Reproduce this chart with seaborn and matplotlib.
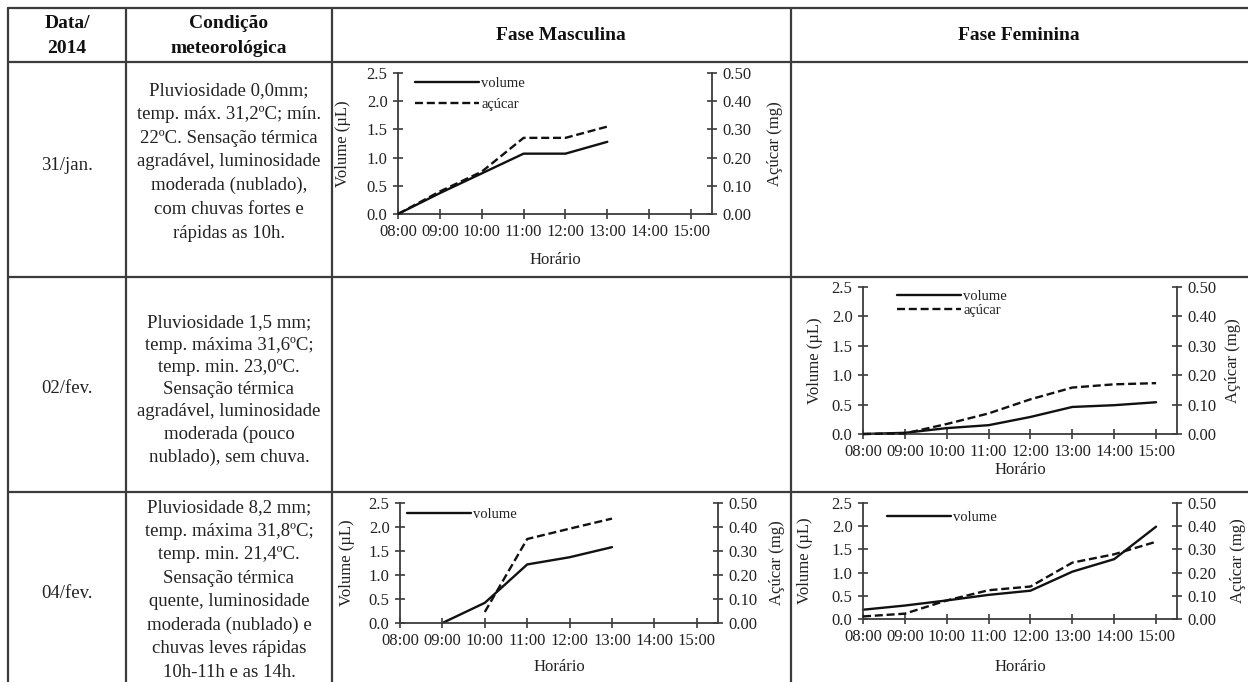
import numpy as np
import pandas as pd
import matplotlib
matplotlib.use("Agg")
import matplotlib.pyplot as plt
import seaborn as sns
from matplotlib.lines import Line2D
from matplotlib.ticker import FormatStrFormatter

# ---------------- data ----------------
HOURS = ["08:00", "09:00", "10:00", "11:00", "12:00", "13:00", "14:00", "15:00"]

# 31/jan - Fase Masculina
jan31_masc_vol_hours = ["08:00", "09:00", "10:00", "11:00", "12:00", "13:00"]
jan31_masc_vol = [0.0, 0.37, 0.72, 1.07, 1.07, 1.28]
jan31_masc_sug_hours = ["08:00", "09:00", "10:00", "11:00", "12:00", "13:00"]
jan31_masc_sug = [0.0, 0.08, 0.15, 0.27, 0.27, 0.31]

# 02/fev - Fase Feminina
fev02_fem_vol_hours = HOURS
fev02_fem_vol = [0.0, 0.02, 0.10, 0.15, 0.29, 0.46, 0.49, 0.54]
fev02_fem_sug_hours = HOURS
fev02_fem_sug = [0.0, 0.002, 0.034, 0.07, 0.118, 0.158, 0.169, 0.173]

# 04/fev - Fase Masculina
fev04_masc_vol_hours = ["09:00", "10:00", "11:00", "12:00", "13:00"]
fev04_masc_vol = [0.0, 0.42, 1.22, 1.37, 1.58]
fev04_masc_sug_hours = ["10:00", "11:00", "12:00", "13:00"]
fev04_masc_sug = [0.046, 0.35, 0.393, 0.435]

# 04/fev - Fase Feminina
fev04_fem_vol_hours = HOURS
fev04_fem_vol = [0.20, 0.29, 0.40, 0.52, 0.61, 1.02, 1.29, 1.99]
fev04_fem_sug_hours = HOURS
fev04_fem_sug = [0.011, 0.023, 0.08, 0.124, 0.14, 0.243, 0.279, 0.333]

header_labels = ["Data/\n2014", "Condição\nmeteorológica", "Fase Masculina", "Fase Feminina"]
row_dates = ["31/jan.", "02/fev.", "04/fev."]
row_conditions = [
    "Pluviosidade 0,0mm;\ntemp. máx. 31,2ºC; mín.\n22ºC. Sensação térmica\nagradável, luminosidade\nmoderada (nublado),\ncom chuvas fortes e\nrápidas as 10h.",
    "Pluviosidade 1,5 mm;\ntemp. máxima 31,6ºC;\ntemp. min. 23,0ºC.\nSensação térmica\nagradável, luminosidade\nmoderada (pouco\nnublado), sem chuva.",
    "Pluviosidade 8,2 mm;\ntemp. máxima 31,8ºC;\ntemp. min. 21,4ºC.\nSensação térmica\nquente, luminosidade\nmoderada (nublado) e\nchuvas leves rápidas\n10h-11h e as 14h.",
]

# ---------------- style ----------------
sns.set_theme(style="white")
plt.rcParams["font.family"] = ["Liberation Serif", "DejaVu Serif"]

W, H = 1248, 682
fig = plt.figure(figsize=(W / 100, H / 100), dpi=100)
fig.patch.set_facecolor("white")


def fx(px):
    return px / W


def fy(py):
    return 1 - py / H


GRID = "#3c3c3c"
# table rules
for x in [8, 126, 332, 791]:
    fig.add_artist(Line2D([fx(x)] * 2, [fy(8), fy(682)], color=GRID, lw=1.6))
for y in [8, 62, 277, 492]:
    fig.add_artist(Line2D([fx(8), fx(1248)], [fy(y)] * 2, color=GRID, lw=1.6))

# header texts
hdr_x = [67, 229, 561, 1019]
for x, t in zip(hdr_x, header_labels):
    fig.text(fx(x), fy(36), t, ha="center", va="center", fontsize=14,
             fontweight="bold", linespacing=1.65, color="#111")

row_centers = [162, 390, 590]
date_centers = [165, 388, 593]
row_spacing = [1.52, 1.40, 1.50]
for yc, yd, d, c, ls in zip(row_centers, date_centers, row_dates, row_conditions, row_spacing):
    fig.text(fx(67), fy(yd), d, ha="center", va="center", fontsize=13.5, color="#222")
    fig.text(fx(229), fy(yc), c, ha="center", va="center", fontsize=13.5,
             linespacing=ls, color="#222")


def panel(box, vol_h, vol, sug_h, sug, legend_both, leg_xy, leg_spacing,
          ylab_x, ylab2_x, xlab_y):
    l, r, t, b = box
    ax = fig.add_axes([fx(l), fy(b), (r - l) / W, (b - t) / H])
    ax.set_facecolor("none")
    ax2 = ax.twinx()
    vdf = pd.DataFrame({"x": [HOURS.index(h) for h in vol_h], "v": vol})
    sdf = pd.DataFrame({"x": [HOURS.index(h) for h in sug_h], "s": sug})
    sns.lineplot(data=vdf, x="x", y="v", ax=ax, color="#111", lw=1.7, clip_on=False)
    sns.lineplot(data=sdf, x="x", y="s", ax=ax2, color="#111", lw=1.7, clip_on=False)
    ax2.lines[-1].set_dashes((3.4, 1.6))

    ax.set_xlim(0, 7.5)
    ax.set_ylim(0, 2.5)
    ax2.set_ylim(0, 0.5)
    ax.set_xticks(range(len(HOURS)))
    ax.set_xticklabels(HOURS)
    ax.set_yticks(np.arange(0, 2.51, 0.5))
    ax.yaxis.set_major_formatter(FormatStrFormatter("%.1f"))
    ax2.set_yticks(np.arange(0, 0.51, 0.1))
    ax2.yaxis.set_major_formatter(FormatStrFormatter("%.2f"))

    for a in (ax, ax2):
        for s in a.spines.values():
            s.set_visible(False)
        a.grid(False)
    ax.spines["left"].set_visible(True)
    ax.spines["bottom"].set_visible(True)
    ax2.spines["right"].set_visible(True)
    for s in [ax.spines["left"], ax.spines["bottom"], ax2.spines["right"]]:
        s.set_color(GRID)
        s.set_linewidth(1.3)

    ax.tick_params(axis="x", bottom=True, direction="inout", length=7, width=1.2,
                   color=GRID, labelsize=12, labelcolor="#222", pad=4)
    ax.tick_params(axis="y", left=True, direction="inout", length=7, width=1.2,
                   color=GRID, labelsize=12, labelcolor="#222", pad=4)
    ax2.tick_params(axis="y", right=True, direction="inout", length=7, width=1.2,
                    color=GRID, labelsize=12, labelcolor="#222", pad=4)

    ax.set_xlabel("Horário", fontsize=12, color="#222")
    ax.xaxis.set_label_coords(0.5, xlab_y)
    ax.xaxis.label.set_va("center")
    ax.set_ylabel("Volume (µL)", fontsize=12, color="#222")
    ax.yaxis.set_label_coords(ylab_x, 0.5)
    ax.yaxis.label.set_va("center")
    ax2.set_ylabel("Açúcar (mg)", fontsize=12, color="#222")
    ax2.yaxis.set_label_coords(ylab2_x, 0.5)
    ax2.yaxis.label.set_va("center")

    h1 = Line2D([], [], color="#111", lw=1.7)
    h2 = Line2D([], [], color="#111", lw=1.7, dashes=(3.4, 1.6))
    handles, labels = ([h1, h2], ["volume", "açúcar"]) if legend_both else ([h1], ["volume"])
    leg = ax2.legend(handles, labels, loc="upper left", bbox_to_anchor=leg_xy,
                     frameon=False, fontsize=10.5, handlelength=4.4,
                     handletextpad=0.15, borderpad=0, borderaxespad=0,
                     labelspacing=leg_spacing)
    for txt in leg.get_texts():
        txt.set_color("#222")
    return ax, ax2


panel((398, 712, 73, 214), jan31_masc_vol_hours, jan31_masc_vol,
      jan31_masc_sug_hours, jan31_masc_sug, True, (0.054, 0.97), 0.5,
      -0.175, 1.2, -0.326)
panel((863, 1177, 287, 434), fev02_fem_vol_hours, fev02_fem_vol,
      fev02_fem_sug_hours, fev02_fem_sug, True, (0.108, 0.98), 0.05,
      -0.153, 1.178, -0.245)
panel((400, 718, 503, 623), fev04_masc_vol_hours, fev04_masc_vol,
      fev04_masc_sug_hours, fev04_masc_sug, False, (0.022, 0.96), 0.3,
      -0.167, 1.185, -0.367)
panel((863, 1177, 503, 619), fev04_fem_vol_hours, fev04_fem_vol,
      fev04_fem_sug_hours, fev04_fem_sug, False, (0.076, 0.93), 0.3,
      -0.185, 1.194, -0.414)

fig.savefig("out.png", dpi=100, facecolor="white")
